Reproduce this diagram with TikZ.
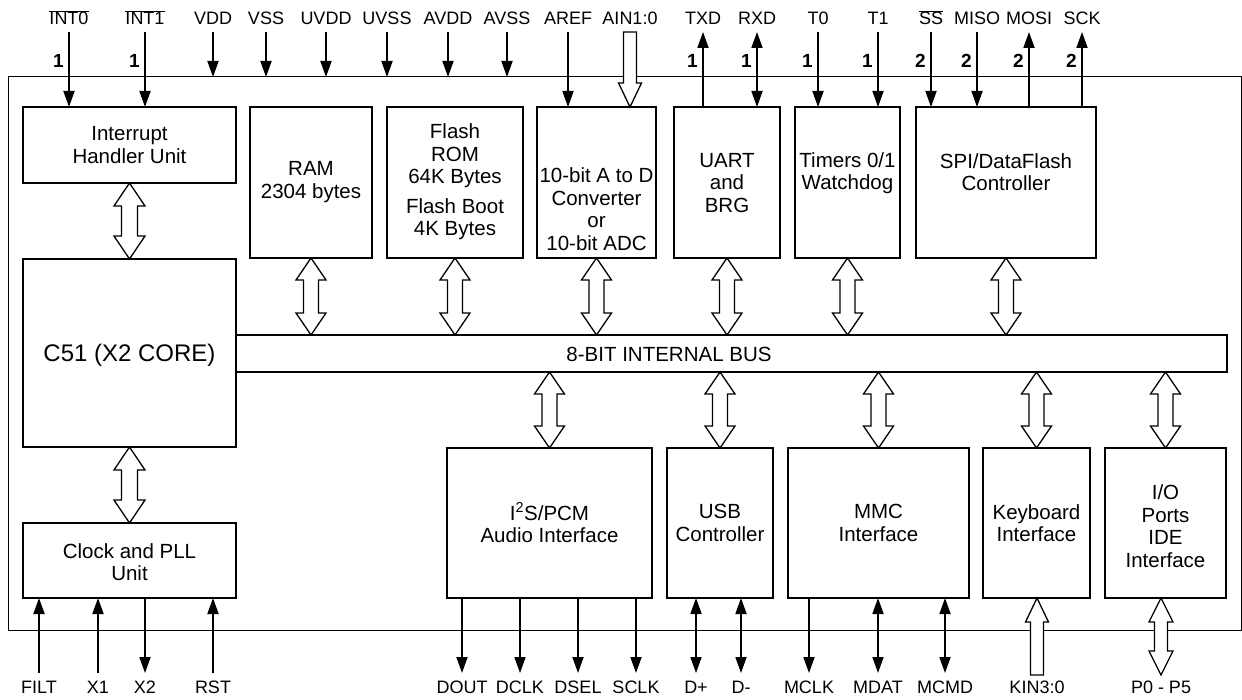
\documentclass[tikz,border=0pt]{standalone}
\usepackage{fontspec}
\setmainfont{Liberation Sans}
\usetikzlibrary{arrows.meta,calc,fit}

% hollow double arrow: #1 upper point, #2 lower point, #3 head length, #4 head half width, #5 shaft half width
\newcommand\hdarrow[5]{%
  \path (#1) coordinate (hA) (#2) coordinate (hB);
  \draw[hollow] (hA) -- ($(hA)+(#4,#3)$) -- ($(hA)+(#5,#3)$) -- ($(hB)+(#5,-#3)$) -- ($(hB)+(#4,-#3)$) -- (hB)
    -- ($(hB)+(-#4,-#3)$) -- ($(hB)+(-#5,-#3)$) -- ($(hA)+(-#5,#3)$) -- ($(hA)+(-#4,#3)$) -- cycle;}

\begin{document}
\begin{tikzpicture}[x=1pt,y=-1pt,
  blk/.style={draw, line width=2pt, inner sep=0pt, outer sep=0pt, rectangle},
  outerbox/.style={draw, line width=1pt, inner sep=0pt, outer sep=0pt, rectangle},
  txt/.style={align=center, inner sep=0pt, font=\fontsize{20.5}{22.5}\selectfont},
  pin/.style={inner sep=0pt, anchor=base, font=\fontsize{18}{20}\selectfont},
  num/.style={inner sep=0pt, anchor=east, font=\fontsize{19}{21}\selectfont\bfseries},
  sig/.style={line width=1.8pt, -{Triangle[length=16pt,width=11pt]}},
  bi/.style={line width=1.8pt, {Triangle[length=16pt,width=11pt]}-{Triangle[length=16pt,width=11pt]}},
  hollow/.style={draw, fill=white, line width=1.3pt, line join=miter}]
\fill[white] (0,0) rectangle (1242,700);
\useasboundingbox (0,0) rectangle (1242,700);

% outer frame
\node[outerbox, fit={(8,77) (1241,630)}] (outer) {};

% blocks
\node[blk, fit={(23,107) (236,183)}] (intr) {};
\node[blk, fit={(250,107) (372,258)}] (ram) {};
\node[blk, fit={(387,107) (523,258)}] (flash) {};
\node[blk, fit={(537,107) (656,258)}] (adc) {};
\node[blk, fit={(674,107) (780,258)}] (uart) {};
\node[blk, fit={(795,107) (900,258)}] (tim) {};
\node[blk, fit={(916,107) (1096,258)}] (spi) {};
\node[blk, fit={(23,259) (236,447)}] (c51) {};
\node[blk, fit={(236,335) (1227,372)}] (bus) {};
\node[blk, fit={(23,523) (236,598)}] (clk) {};
\node[blk, fit={(447,448) (652,598)}] (i2s) {};
\node[blk, fit={(667,448) (773,598)}] (usb) {};
\node[blk, fit={(788,448) (969,598)}] (mmc) {};
\node[blk, fit={(983,448) (1090,598)}] (kb) {};
\node[blk, fit={(1105,448) (1226,598)}] (io) {};

% block texts
\node[txt] (intrT) at (129.5,145) {Interrupt\\Handler Unit};
\node[txt] (ramT) at (311,182) {RAM\\2304 bytes};
\node[txt] (flashT) at (455,182) {Flash\\ROM\\64K Bytes\\[7pt]Flash Boot\\4K Bytes};
\node[txt] (adcT) at (596.5,209) {10-bit A to D\\Converter\\or\\10-bit ADC};
\node[txt] (uartT) at (727,183) {UART\\and\\BRG};
\node[txt] (timT) at (847.5,173) {Timers 0/1\\Watchdog};
\node[txt] (spiT) at (1006,172) {SPI/DataFlash\\Controller};
\node[txt, font=\fontsize{24}{26}\selectfont] (c51T) at (129.5,355) {C51 (X2 CORE)};
\node[txt, font=\fontsize{20.5}{22}\selectfont] (busT) at (669,354) {8-BIT INTERNAL BUS};
\node[txt] (clkT) at (129.5,562) {Clock and PLL\\Unit};
\node[txt] (i2sT) at (549.5,523) {I\textsuperscript{2}S/PCM\\Audio Interface};
\node[txt] (usbT) at (720,523) {USB\\Controller};
\node[txt] (mmcT) at (878.5,523) {MMC\\Interface};
\node[txt] (kbT) at (1036.5,523) {Keyboard\\Interface};
\node[txt] (ioT) at (1165.5,526) {I/O\\Ports\\IDE\\Interface};

% top pin labels
\node[pin] (lINT0) at (69,25) {$\overline{\mbox{INT0}}$};
\node[pin] (lINT1) at (145,25) {$\overline{\mbox{INT1}}$};
\node[pin] (lVDD) at (213,25) {VDD};
\node[pin] (lVSS) at (266,25) {VSS};
\node[pin] (lUVDD) at (326,25) {UVDD};
\node[pin] (lUVSS) at (387,25) {UVSS};
\node[pin] (lAVDD) at (448,25) {AVDD};
\node[pin] (lAVSS) at (507,25) {AVSS};
\node[pin] (lAREF) at (568,25) {AREF};
\node[pin] (lAIN) at (630,25) {AIN1:0};
\node[pin] (lTXD) at (703,25) {TXD};
\node[pin] (lRXD) at (757,25) {RXD};
\node[pin] (lT0) at (818,25) {T0};
\node[pin] (lT1) at (878,25) {T1};
\node[pin] (lSS) at (931,25) {$\overline{\mbox{SS}}$};
\node[pin] (lMISO) at (977,25) {MISO};
\node[pin] (lMOSI) at (1029,25) {MOSI};
\node[pin] (lSCK) at (1082,25) {SCK};

% top pin start points
\foreach \n/\x in {INT0/69,INT1/145,VDD/213,VSS/266,UVDD/326,UVSS/387,AVDD/448,AVSS/507,AREF/568,AIN/630,TXD/703,RXD/757,T0/818,T1/878,SS/931,MISO/977,MOSI/1029,SCK/1082}
  \coordinate (t\n) at (\x,32);

% top connectors
\draw[sig] (tINT0) -- (tINT0 |- intr.north);
\draw[sig] (tINT1) -- (tINT1 |- intr.north);
\draw[sig] (tVDD) -- (tVDD |- outer.north);
\draw[sig] (tVSS) -- (tVSS |- outer.north);
\draw[sig] (tUVDD) -- (tUVDD |- outer.north);
\draw[sig] (tUVSS) -- (tUVSS |- outer.north);
\draw[sig] (tAVDD) -- (tAVDD |- outer.north);
\draw[sig] (tAVSS) -- (tAVSS |- outer.north);
\draw[sig] (tAREF) -- (tAREF |- adc.north);
\draw[sig] (tTXD |- uart.north) -- (tTXD);
\draw[bi] (tRXD) -- (tRXD |- uart.north);
\draw[sig] (tT0) -- (tT0 |- tim.north);
\draw[sig] (tT1) -- (tT1 |- tim.north);
\draw[sig] (tSS) -- (tSS |- spi.north);
\draw[sig] (tMISO) -- (tMISO |- spi.north);
\draw[sig] (tMOSI |- spi.north) -- (tMOSI);
\draw[sig] (tSCK |- spi.north) -- (tSCK);
% AIN hollow arrow
\coordinate (ainTip) at (tAIN |- adc.north);
\draw[hollow] ($(tAIN)+(-6.5,0)$) -- ($(tAIN)+(6.5,0)$) -- ($(ainTip)+(6.5,-24)$) -- ($(ainTip)+(11.5,-24)$) -- (ainTip)
  -- ($(ainTip)+(-11.5,-24)$) -- ($(ainTip)+(-6.5,-24)$) -- cycle;

% bus-width numbers
\node[num] (nINT0) at (64,61) {1};
\node[num] (nINT1) at (140,61) {1};
\node[num] (nTXD) at (698,61) {1};
\node[num] (nRXD) at (752,61) {1};
\node[num] (nT0) at (813,61) {1};
\node[num] (nT1) at (873,61) {1};
\node[num] (nSS) at (926,61) {2};
\node[num] (nMISO) at (972,61) {2};
\node[num] (nMOSI) at (1024,61) {2};
\node[num] (nSCK) at (1077,61) {2};

% bottom pin labels
\node[pin] (lFILT) at (39,693) {FILT};
\node[pin] (lX1) at (98,693) {X1};
\node[pin] (lX2) at (145,693) {X2};
\node[pin] (lRST) at (213,693) {RST};
\node[pin] (lDOUT) at (462,693) {DOUT};
\node[pin] (lDCLK) at (520,693) {DCLK};
\node[pin] (lDSEL) at (578,693) {DSEL};
\node[pin] (lSCLK) at (636,693) {SCLK};
\node[pin] (lDP) at (696,693) {D+};
\node[pin] (lDM) at (741,693) {D-};
\node[pin] (lMCLK) at (809,693) {MCLK};
\node[pin] (lMDAT) at (878,693) {MDAT};
\node[pin] (lMCMD) at (945,693) {MCMD};
\node[pin] (lKIN) at (1037,693) {KIN3:0};
\node[pin] (lP) at (1161,693) {P0 - P5};

\foreach \n/\x in {FILT/39,X1/98,X2/145,RST/213,DOUT/462,DCLK/520,DSEL/578,SCLK/636,DP/696,DM/741,MCLK/809,MDAT/878,MCMD/945,KIN/1037,P/1161}
  \coordinate (b\n) at (\x,673);

% bottom connectors
\draw[sig] (bFILT) -- (bFILT |- clk.south);
\draw[sig] (bX1) -- (bX1 |- clk.south);
\draw[sig] (bX2 |- clk.south) -- (bX2);
\draw[sig] (bRST) -- (bRST |- clk.south);
\draw[sig] (bDOUT |- i2s.south) -- (bDOUT);
\draw[sig] (bDCLK |- i2s.south) -- (bDCLK);
\draw[sig] (bDSEL |- i2s.south) -- (bDSEL);
\draw[sig] (bSCLK |- i2s.south) -- (bSCLK);
\draw[bi] (bDP |- usb.south) -- (bDP);
\draw[bi] (bDM |- usb.south) -- (bDM);
\draw[sig] (bMCLK |- mmc.south) -- (bMCLK);
\draw[bi] (bMDAT |- mmc.south) -- (bMDAT);
\draw[bi] (bMCMD |- mmc.south) -- (bMCMD);
% KIN hollow arrow (up)
\coordinate (kinTail) at (1037,675);
\coordinate (kinTip) at (kinTail |- kb.south);
\draw[hollow] ($(kinTail)+(-6.5,0)$) -- ($(kinTail)+(6.5,0)$) -- ($(kinTip)+(6.5,24)$) -- ($(kinTip)+(11.5,24)$) -- (kinTip)
  -- ($(kinTip)+(-11.5,24)$) -- ($(kinTip)+(-6.5,24)$) -- cycle;
% P0-P5 hollow double arrow
\coordinate (pTail) at (1161,675);
\hdarrow{pTail |- io.south}{pTail}{24}{12}{6.5}

% internal hollow double arrows
\hdarrow{intr.south}{c51.north}{23}{15.5}{8}
\hdarrow{c51.south}{clk.north}{23}{15.5}{8}
\hdarrow{ram.south}{ram.south |- bus.north}{22}{15}{7.5}
\hdarrow{flash.south}{flash.south |- bus.north}{22}{15}{7.5}
\hdarrow{adc.south}{adc.south |- bus.north}{22}{15}{7.5}
\hdarrow{uart.south}{uart.south |- bus.north}{22}{15}{7.5}
\hdarrow{tim.south}{tim.south |- bus.north}{22}{15}{7.5}
\hdarrow{spi.south}{spi.south |- bus.north}{22}{15}{7.5}
\hdarrow{i2s.north |- bus.south}{i2s.north}{22}{15}{7.5}
\hdarrow{usb.north |- bus.south}{usb.north}{22}{15}{7.5}
\hdarrow{mmc.north |- bus.south}{mmc.north}{22}{15}{7.5}
\hdarrow{kb.north |- bus.south}{kb.north}{22}{15}{7.5}
\hdarrow{io.north |- bus.south}{io.north}{22}{15}{7.5}
\end{tikzpicture}
\end{document}
